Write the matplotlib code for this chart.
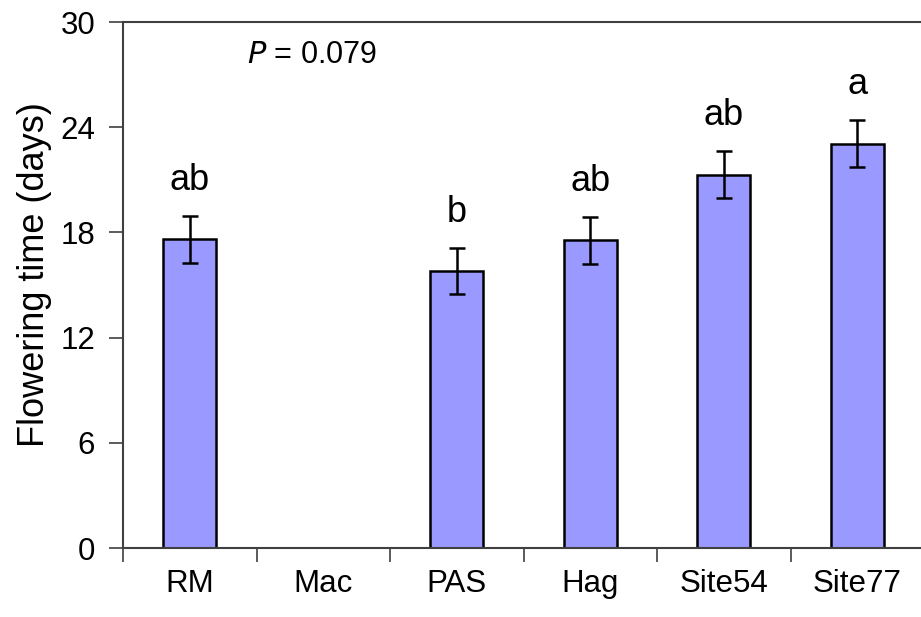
import matplotlib
matplotlib.use("Agg")
import matplotlib.pyplot as plt
import numpy as np

plt.rcParams["font.family"] = ["Liberation Sans", "DejaVu Sans"]

# Mean flowering time per population (Mac has no data)
sites = ["RM", "Mac", "PAS", "Hag", "Site54", "Site77"]
means = [17.6, np.nan, 15.8, 17.55, 21.3, 23.07]
errors = [1.32, np.nan, 1.32, 1.33, 1.33, 1.32]
groups = ["ab", "", "b", "ab", "ab", "a"]

fig = plt.figure(figsize=(9.21, 6.17), dpi=100)
ax = fig.add_axes([123 / 921, 1 - 548 / 617, 801 / 921, 526 / 617])

x = np.arange(len(sites)) + 0.5
ax.bar(x, np.nan_to_num(means), width=0.4, color="#9999ff",
       edgecolor="black", linewidth=1.8, zorder=2)
ax.errorbar(x, means, yerr=errors, fmt="none", ecolor="black",
            elinewidth=1.8, capsize=6, capthick=1.8, zorder=3)

for xi, m, e, g in zip(x, means, errors, groups):
    if g:
        ax.text(xi, m + e + 1.5, g, ha="center", va="baseline", fontsize=26)

ax.text(0.155, 0.937, r"$\it{P}$ = 0.079", transform=ax.transAxes,
        fontsize=22, ha="left", va="center")

ax.set_xlim(0, 6)
ax.set_ylim(0, 30)
ax.set_yticks(range(0, 31, 6))
ax.set_xticks(np.arange(0, 7))
ax.set_xticklabels([])
ax.set_xticks(x, minor=True)
ax.set_xticklabels(sites, minor=True)

spine_col = "#404040"
for side in ["left", "bottom", "top"]:
    ax.spines[side].set_color(spine_col)
    ax.spines[side].set_linewidth(1.5)
ax.spines["right"].set_visible(False)

ax.tick_params(axis="y", direction="out", length=10, width=1.2,
               color=spine_col, labelsize=22.5, pad=10)
ax.tick_params(axis="x", which="major", direction="out", length=10,
               width=1.2, color=spine_col)
ax.tick_params(axis="x", which="minor", length=0, labelsize=22.5, pad=15)

fig.text(34.5 / 921, 1 - 275 / 617, "Flowering time (days)", rotation=90,
         ha="center", va="center", fontsize=26)

fig.savefig("out.png", dpi=100)
